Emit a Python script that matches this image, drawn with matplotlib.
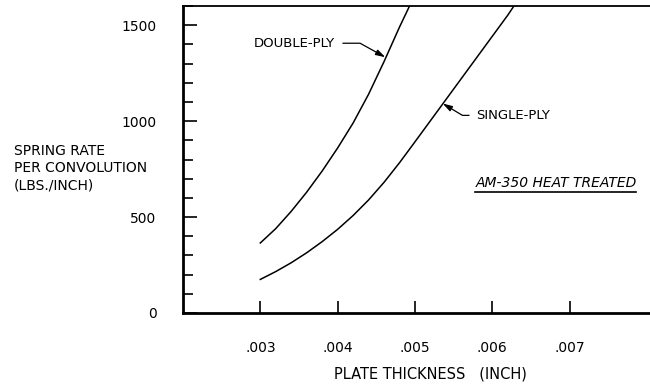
import matplotlib.pyplot as plt
from matplotlib.ticker import MultipleLocator, FixedLocator

# leituras do grafico
espessura_dupla = [0.0030, 0.0032, 0.0034, 0.0036, 0.0038, 0.0040, 0.0042,
                   0.0044, 0.0046, 0.0048, 0.00493]
taxa_dupla = [365, 440, 530, 630, 740, 860, 990, 1140, 1310, 1490, 1600]

espessura_simples = [0.0030, 0.0032, 0.0034, 0.0036, 0.0038, 0.0040, 0.0042,
                     0.0044, 0.0046, 0.0048, 0.0050, 0.0052, 0.0054, 0.0056,
                     0.0058, 0.0060, 0.0062, 0.00628]
taxa_simples = [175, 216, 262, 314, 372, 436, 508, 589, 681, 783, 892, 1002,
                1112, 1222, 1332, 1442, 1552, 1600]

xticks = [0.003, 0.004, 0.005, 0.006, 0.007]
xtick_labels = ['.003', '.004', '.005', '.006', '.007']
yticks = [0, 500, 1000, 1500]

plt.rcParams['font.family'] = 'DejaVu Sans'

fig = plt.figure(figsize=(6.5, 3.85), dpi=100)
ax = fig.add_axes([183 / 650, 1 - 313 / 385, 1 - 183 / 650, (313 - 6) / 385])

ax.plot(espessura_dupla, taxa_dupla, color='black', lw=1.1)
ax.plot(espessura_simples, taxa_simples, color='black', lw=1.1)

ax.set_xlim(0.002, 0.00804)
ax.set_ylim(0, 1600)

ax.spines['right'].set_visible(False)
ax.spines['left'].set_linewidth(2)
ax.spines['bottom'].set_linewidth(2)
ax.spines['top'].set_linewidth(1.3)

ax.xaxis.set_major_locator(FixedLocator(xticks))
ax.set_xticklabels(xtick_labels)
ax.yaxis.set_major_locator(FixedLocator(yticks))
ax.yaxis.set_minor_locator(MultipleLocator(100))
ax.tick_params(axis='x', direction='in', length=9, width=1.2, pad=20, labelsize=10)
ax.tick_params(axis='y', which='major', direction='in', length=10, width=1.2, pad=19, labelsize=10)
ax.tick_params(axis='y', which='minor', direction='in', length=7, width=1.2)

ax.annotate('DOUBLE-PLY', xy=(0.004617, 1333), xytext=(0.00396, 1406),
            ha='right', va='center', fontsize=9.5,
            arrowprops=dict(arrowstyle='-|>,head_length=0.6,head_width=0.18', color='black',
                            lw=0.9, relpos=(1, 0.5), shrinkA=4, shrinkB=0,
                            connectionstyle='angle,angleA=0,angleB=-29,rad=0'))
ax.annotate('SINGLE-PLY', xy=(0.005358, 1092), xytext=(0.005790, 1030),
            ha='left', va='center', fontsize=9.5,
            arrowprops=dict(arrowstyle='-|>,head_length=0.6,head_width=0.18', color='black',
                            lw=0.9, relpos=(0, 0.5), shrinkA=3, shrinkB=0,
                            connectionstyle='angle,angleA=180,angleB=-31,rad=0'))

ax.text(0.00579, 680, 'AM-350 HEAT TREATED', ha='left', va='center',
        fontsize=10, style='italic')
ax.plot([0.00578, 0.00786], [633, 633], color='black', lw=1.2)

fig.text(14 / 650, 1 - 168 / 385, 'SPRING RATE\nPER CONVOLUTION\n(LBS./INCH)',
         ha='left', va='center', fontsize=10, linespacing=1.3)
fig.text(430 / 650, 1 - 374 / 385, 'PLATE THICKNESS   (INCH)',
         ha='center', va='center', fontsize=10.5)

fig.savefig('out.png', dpi=100)
